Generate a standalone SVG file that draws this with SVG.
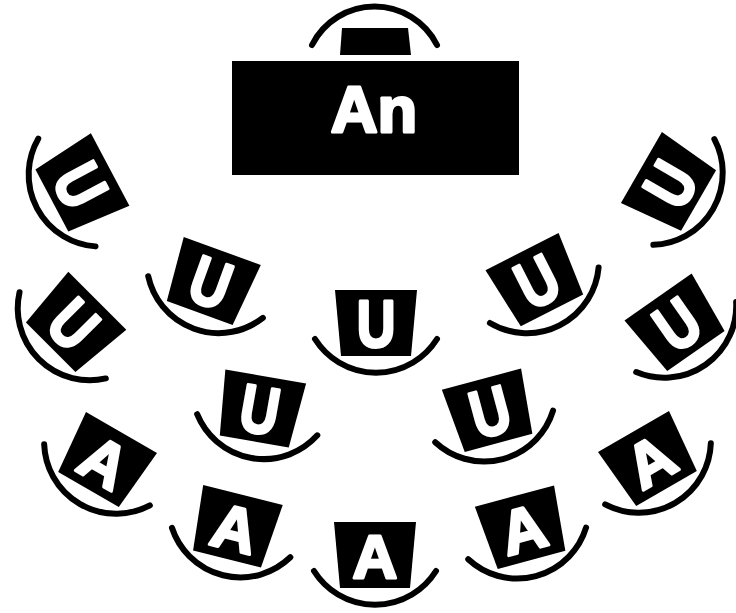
<svg xmlns="http://www.w3.org/2000/svg" width="736" height="613" viewBox="0 0 736 613">
<style>
.blk{fill:#000}
.arc{fill:none;stroke:#000;stroke-width:6;stroke-linecap:round}
.lt{fill:#fff;stroke:#fff;stroke-width:3;stroke-linejoin:round;font-family:"Liberation Sans",Arial,sans-serif;font-weight:bold;text-anchor:middle}
.u{font-size:67px}
.a{font-size:62px}
</style>
<defs>
<g id="seat">
<polygon class="blk" points="-41,-33 41,-33 35,33 -35,33"/>
<path class="arc" d="M-61,16 A72 72 0 0 0 61,16"/>
</g>
</defs>
<rect width="736" height="613" fill="#fff"/>
<g id="conductor">
<path class="arc" d="M312,45 A70 70 0 0 1 437,45"/>
<polygon class="blk" points="342,28 408,28 411,55 340,55"/>
<rect class="blk" x="232" y="61" width="287" height="114"/>
<text class="lt" x="374" y="132" font-size="65">An</text>
</g>
<g id="connectors"></g>
<g id="u1" transform="translate(81,185) rotate(62)"><use href="#seat"/><text class="lt u" transform="scale(0.8,1)" y="24">U</text></g>
<g id="u2" transform="translate(670,184) rotate(-60)"><use href="#seat"/><text class="lt u" transform="scale(0.8,1)" y="24">U</text></g>
<g id="u3" transform="translate(74,324) rotate(45)"><use href="#seat"/><text class="lt u" transform="scale(0.8,1)" y="24">U</text></g>
<g id="u4" transform="translate(677,324) rotate(-35)"><use href="#seat"/><text class="lt u" transform="scale(0.8,1)" y="24">U</text></g>
<g id="u5" transform="translate(211,282) rotate(20)"><use href="#seat"/><text class="lt u" transform="scale(0.8,1)" y="24">U</text></g>
<g id="u6" transform="translate(376,323)"><use href="#seat"/><text class="lt u" transform="scale(0.8,1)" y="24">U</text></g>
<g id="u7" transform="translate(537,281) rotate(-27)"><use href="#seat"/><text class="lt u" transform="scale(0.8,1)" y="24">U</text></g>
<g id="u8" transform="translate(260,409) rotate(10)"><use href="#seat"/><text class="lt u" transform="scale(0.8,1)" y="24">U</text></g>
<g id="u9" transform="translate(490,411) rotate(-15)"><use href="#seat"/><text class="lt u" transform="scale(0.8,1)" y="24">U</text></g>
<g id="a1" transform="translate(105,461) rotate(30)"><use href="#seat"/><text class="lt a" y="23">A</text></g>
<g id="a2" transform="translate(235,527) rotate(14)"><use href="#seat"/><text class="lt a" y="23">A</text></g>
<g id="a3" transform="translate(375,555)"><use href="#seat"/><text class="lt a" y="23">A</text></g>
<g id="a4" transform="translate(523,528) rotate(-15)"><use href="#seat"/><text class="lt a" y="23">A</text></g>
<g id="a5" transform="translate(650,460) rotate(-30)"><use href="#seat"/><text class="lt a" y="23">A</text></g>
</svg>
